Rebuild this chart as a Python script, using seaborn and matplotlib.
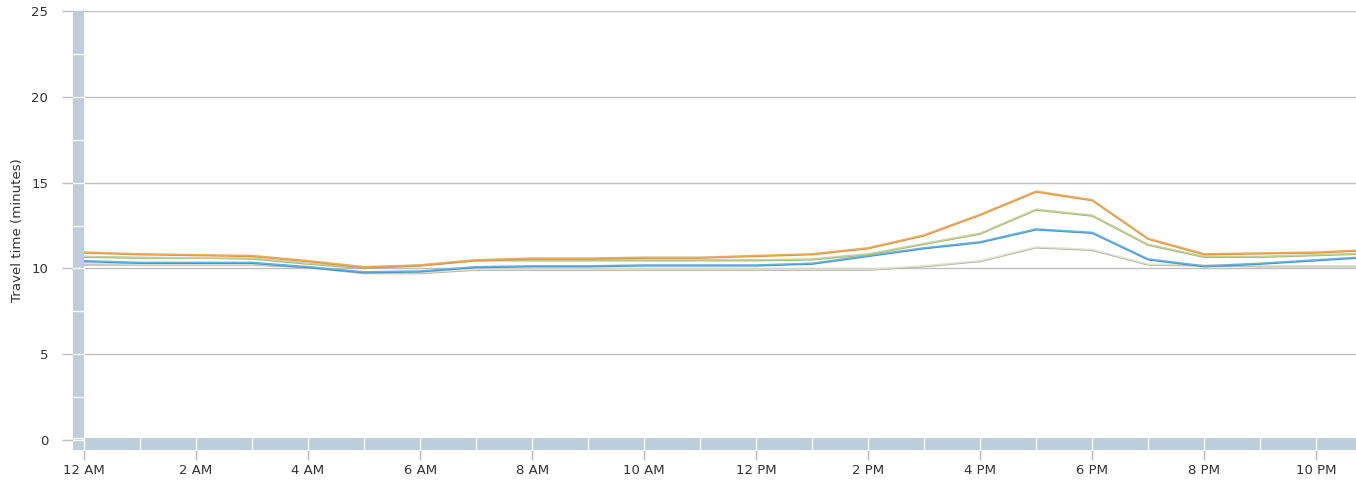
import matplotlib
matplotlib.use("Agg")
import matplotlib.pyplot as plt
from matplotlib.patches import Rectangle
from matplotlib import transforms
import numpy as np
import pandas as pd
import seaborn as sns

# Hour of day for each sample
hours = list(range(24))

# Travel time (minutes) per series, one value per hour
orange = [10.95, 10.85, 10.8, 10.75, 10.45, 10.1, 10.2, 10.5, 10.6, 10.6, 10.65, 10.65,
          10.75, 10.85, 11.2, 11.95, 13.15, 14.5, 14.0, 11.75, 10.85, 10.9, 10.95, 11.1]
amber = [10.9, 10.8, 10.75, 10.7, 10.4, 10.05, 10.15, 10.45, 10.55, 10.55, 10.6, 10.6,
         10.7, 10.8, 11.15, 11.9, 13.1, 14.45, 13.95, 11.7, 10.8, 10.85, 10.9, 11.05]
green = [10.7, 10.65, 10.6, 10.6, 10.3, 10.05, 10.2, 10.5, 10.5, 10.5, 10.5, 10.5,
         10.5, 10.55, 10.85, 11.45, 12.05, 13.45, 13.1, 11.4, 10.7, 10.7, 10.8, 10.9]
olive = [10.65, 10.6, 10.6, 10.55, 10.25, 10.0, 10.15, 10.45, 10.45, 10.45, 10.45, 10.45,
         10.45, 10.5, 10.8, 11.4, 12.0, 13.4, 13.05, 11.35, 10.65, 10.65, 10.75, 10.85]
blue = [10.45, 10.35, 10.35, 10.35, 10.1, 9.8, 9.85, 10.1, 10.15, 10.15, 10.2, 10.2,
        10.2, 10.3, 10.75, 11.2, 11.55, 12.3, 12.1, 10.55, 10.15, 10.3, 10.5, 10.7]
steel = [10.4, 10.3, 10.3, 10.3, 10.05, 9.75, 9.8, 10.05, 10.1, 10.1, 10.15, 10.15,
         10.15, 10.25, 10.7, 11.15, 11.5, 12.25, 12.05, 10.5, 10.1, 10.25, 10.45, 10.65]
gray = [10.2, 10.2, 10.2, 10.2, 10.05, 9.7, 9.7, 9.9, 9.9, 9.9, 9.9, 9.9,
        9.9, 9.9, 9.9, 10.1, 10.4, 11.2, 11.05, 10.2, 10.15, 10.1, 10.1, 10.1]
beige = [10.3, 10.25, 10.25, 10.25, 10.1, 9.75, 9.75, 9.95, 9.95, 9.95, 9.95, 9.95,
         9.95, 9.95, 9.95, 10.15, 10.45, 11.25, 11.1, 10.25, 10.2, 10.15, 10.15, 10.15]

series_names = ["gray", "beige", "steel", "blue", "olive", "green", "amber", "orange"]
series_values = [gray, beige, steel, blue, olive, green, amber, orange]
series_colors = ["#b4b4ac", "#e2e2cc", "#4d8dbd", "#63b3e3", "#a9b478", "#c2d49a", "#d4954a", "#eea95a"]

y_ticks = [0, 5, 10, 15, 20, 25]
x_ticks = [0, 2, 4, 6, 8, 10, 12, 14, 16, 18, 20, 22]
x_labels = ["12 AM", "2 AM", "4 AM", "6 AM", "8 AM", "10 AM",
            "12 PM", "2 PM", "4 PM", "6 PM", "8 PM", "10 PM"]

df = pd.concat(
    [pd.DataFrame({"hour": hours, "minutes": v, "series": n})
     for n, v in zip(series_names, series_values)],
    ignore_index=True,
)

sns.set_theme(style="white")
plt.rcParams["font.family"] = ["DejaVu Sans"]

W, H = 1356, 487
fig = plt.figure(figsize=(W / 100, H / 100), dpi=100)
left_px, right_px, top_px, bottom_px = 84, 1356, 11, 440
ax = fig.add_axes([left_px / W, (H - bottom_px) / H,
                   (right_px - left_px) / W, (bottom_px - top_px) / H])

sns.lineplot(data=df, x="hour", y="minutes", hue="series", hue_order=series_names,
             palette=dict(zip(series_names, series_colors)), linewidth=1.1,
             legend=False, ax=ax, zorder=2)

ax.set_xlim(0, 22.71)
ax.set_ylim(0, 25)
for s in ax.spines.values():
    s.set_visible(False)

grid_c = "#c0c0c0"
ax.set_yticks(y_ticks)
ax.set_yticklabels([str(t) for t in y_ticks])
ax.yaxis.grid(True, color=grid_c, linewidth=1.0, zorder=0)
ax.set_axisbelow(True)
ax.tick_params(axis="y", which="major", length=15.8, width=1.0, color=grid_c,
               pad=10, labelsize=9.5, labelcolor="#333333", left=True)
ax.set_xticks(x_ticks)
ax.set_xticklabels(x_labels)
ax.tick_params(axis="x", which="major", length=14.4, width=1.0, color="#b8bcc0",
               pad=3, labelsize=9.5, labelcolor="#333333", bottom=True)
ax.set_xlabel("")
ax.set_ylabel("")
fig.text(18 / W, 1 - 230 / H, "Travel time (minutes)", rotation=90, fontsize=9.6,
         color="#333333", ha="center", va="center")

# Scroll-bar style bands along the left and bottom edges
band_c = "#bccddc"
aw, ah = right_px - left_px, bottom_px - top_px
bx0 = -11 / aw
by0, by1 = -10 / ah, 2 / ah
ax.add_patch(Rectangle((bx0, by0), -bx0, 1 - by0, transform=ax.transAxes,
                       facecolor=band_c, edgecolor="none", clip_on=False, zorder=3))
ax.add_patch(Rectangle((bx0, by0), 1 - bx0, by1 - by0, transform=ax.transAxes,
                       facecolor=band_c, edgecolor="none", clip_on=False, zorder=3))

ytr = transforms.blended_transform_factory(ax.transAxes, ax.transData)
for v in np.arange(0, 25, 2.5):
    ax.plot([bx0, 0], [v, v], transform=ytr, color="white", linewidth=1.0,
            clip_on=False, zorder=4)
xtr = transforms.blended_transform_factory(ax.transData, ax.transAxes)
for h in range(0, 23):
    ax.plot([h, h], [by0, by1], transform=xtr, color="white", linewidth=1.0,
            clip_on=False, zorder=4)
ax.plot([bx0, 0], [by1, by1], transform=ax.transAxes, color="white",
        linewidth=1.0, clip_on=False, zorder=4)

fig.savefig("out.png", dpi=100, facecolor="white")
